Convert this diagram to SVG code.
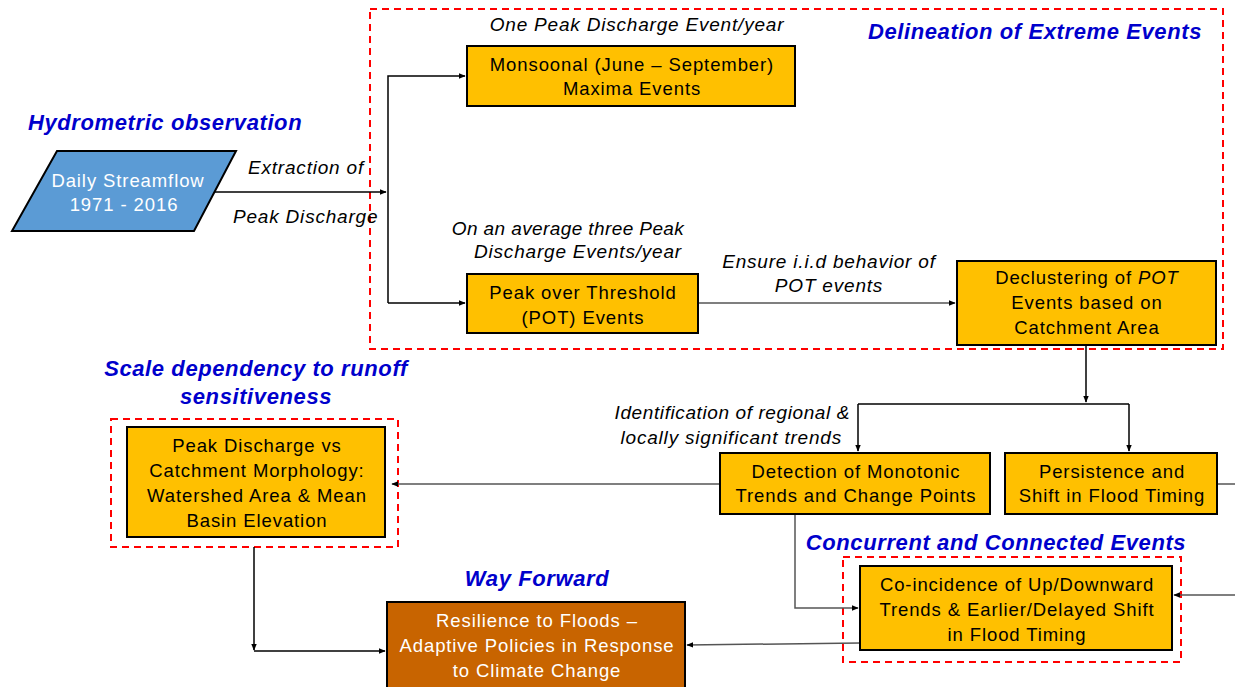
<svg xmlns="http://www.w3.org/2000/svg" width="1235" height="687" viewBox="0 0 1235 687">
<defs>
<marker id="ah" viewBox="0 0 10 10" refX="9" refY="5" markerWidth="7" markerHeight="7" markerUnits="userSpaceOnUse" orient="auto"><path d="M0,1 L10,5 L0,9 z" fill="#000"/></marker>
<style>
.box{fill:#ffc000;stroke:#000;stroke-width:2}
.grp{fill:none;stroke:#ff0000;stroke-width:2;stroke-dasharray:7,5}
.t{font-family:"Liberation Sans",Arial,sans-serif;font-size:18.5px;letter-spacing:0.9px;fill:#000;text-anchor:middle}
.w{fill:#fff}
.i{font-family:"Liberation Sans",Arial,sans-serif;font-size:19px;letter-spacing:0.8px;font-style:italic;fill:#000}
.h{font-family:"Liberation Sans",Arial,sans-serif;font-size:22px;letter-spacing:0.6px;font-style:italic;font-weight:bold;fill:#0000cc}
.c{fill:none;stroke:#000;stroke-width:1.5}
.g{fill:none;stroke:#555;stroke-width:1.5}
</style>
</defs>
<rect width="1235" height="687" fill="#fff"/>

<g id="groups">
<rect class="grp" x="370" y="9" width="853" height="340"/>
<rect class="grp" x="111" y="419" width="287" height="128"/>
<rect class="grp" x="843" y="557" width="338" height="105"/>
</g>

<g id="headings">
<text class="h" x="28" y="130">Hydrometric observation</text>
<text class="h" x="1202" y="39" text-anchor="end">Delineation of Extreme Events</text>
<text class="h" x="256" y="376" text-anchor="middle">Scale dependency to runoff</text>
<text class="h" x="256" y="404" text-anchor="middle">sensitiveness</text>
<text class="h" x="537" y="586" text-anchor="middle">Way Forward</text>
<text class="h" x="996" y="550" text-anchor="middle">Concurrent and Connected Events</text>
</g>

<g id="labels">
<text class="i" x="248" y="174">Extraction of</text>
<text class="i" x="233" y="223">Peak Discharge</text>
<text class="i" x="637" y="31" text-anchor="middle">One Peak Discharge Event/year</text>
<text class="i" x="568" y="235" text-anchor="middle" style="letter-spacing:0.4px">On an average three Peak</text>
<text class="i" x="578" y="258" text-anchor="middle">Discharge Events/year</text>
<text class="i" x="829" y="268" text-anchor="middle">Ensure i.i.d behavior of</text>
<text class="i" x="829" y="292" text-anchor="middle">POT events</text>
<text class="i" x="850" y="419" text-anchor="end" style="letter-spacing:0.6px">Identification of regional &amp;</text>
<text class="i" x="842" y="444" text-anchor="end">locally significant trends</text>
</g>

<g id="connectors">
<path class="c" d="M214,192 H386" marker-end="url(#ah)"/>
<path class="c" d="M388,303 V76 H465" marker-end="url(#ah)"/>
<path class="c" d="M388,303 H465" marker-end="url(#ah)"/>
<path class="g" d="M698,303 H955" marker-end="url(#ah)"/>
<path class="c" d="M1086,345 V402" marker-end="url(#ah)"/>
<path class="c" d="M858,404 H1129"/>
<path class="c" d="M858,404 V451" marker-end="url(#ah)"/>
<path class="c" d="M1129,404 V451" marker-end="url(#ah)"/>
<path class="g" d="M720,484 H392" marker-end="url(#ah)"/>
<path class="g" d="M1217,484 H1250 V595 H1174" marker-end="url(#ah)"/>
<path class="g" d="M795,514 V608 H858" marker-end="url(#ah)"/>
<path class="g" d="M860,643 L687,645" marker-end="url(#ah)"/>
<path class="c" d="M254,547 V650" marker-end="url(#ah)"/>
<path class="c" d="M254,651 H385" marker-end="url(#ah)"/>
</g>

<g id="n-streamflow">
<polygon points="57,151 236,151 194,231 12,231" fill="#5b9bd5" stroke="#000" stroke-width="2"/>
<text class="t w" x="128" y="187">Daily Streamflow</text>
<text class="t w" x="124" y="211">1971 - 2016</text>
</g>

<g id="n-monsoonal">
<rect class="box" x="467" y="46" width="328" height="60"/>
<text class="t" x="632" y="71">Monsoonal (June – September)</text>
<text class="t" x="632" y="95">Maxima Events</text>
</g>

<g id="n-pot">
<rect class="box" x="467" y="274" width="231" height="59"/>
<text class="t" x="583" y="299">Peak over Threshold</text>
<text class="t" x="583" y="324">(POT) Events</text>
</g>

<g id="n-decluster">
<rect class="box" x="957" y="261" width="259" height="84"/>
<text class="t" x="1087" y="284">Declustering of <tspan font-style="italic">POT</tspan></text>
<text class="t" x="1087" y="309">Events based on</text>
<text class="t" x="1087" y="334">Catchment Area</text>
</g>

<g id="n-detection">
<rect class="box" x="720" y="453" width="270" height="61"/>
<text class="t" x="856" y="478">Detection of Monotonic</text>
<text class="t" x="856" y="502">Trends and Change Points</text>
</g>

<g id="n-persistence">
<rect class="box" x="1005" y="453" width="212" height="61"/>
<text class="t" x="1112" y="478">Persistence and</text>
<text class="t" x="1112" y="502">Shift in Flood Timing</text>
</g>

<g id="n-peakmorph">
<rect class="box" x="127" y="427" width="258" height="110"/>
<text class="t" x="257" y="452">Peak Discharge vs</text>
<text class="t" x="257" y="477">Catchment Morphology:</text>
<text class="t" x="257" y="502">Watershed Area &amp; Mean</text>
<text class="t" x="257" y="527">Basin Elevation</text>
</g>

<g id="n-coincidence">
<rect class="box" x="860" y="566" width="312" height="84"/>
<text class="t" x="1017" y="591">Co-incidence of Up/Downward</text>
<text class="t" x="1017" y="616">Trends &amp; Earlier/Delayed Shift</text>
<text class="t" x="1017" y="641">in Flood Timing</text>
</g>

<g id="n-resilience">
<rect x="387" y="602" width="298" height="90" fill="#c86400" stroke="#000" stroke-width="2"/>
<text class="t w" x="537" y="627">Resilience to Floods –</text>
<text class="t w" x="537" y="652">Adaptive Policies in Response</text>
<text class="t w" x="537" y="677">to Climate Change</text>
</g>
</svg>
